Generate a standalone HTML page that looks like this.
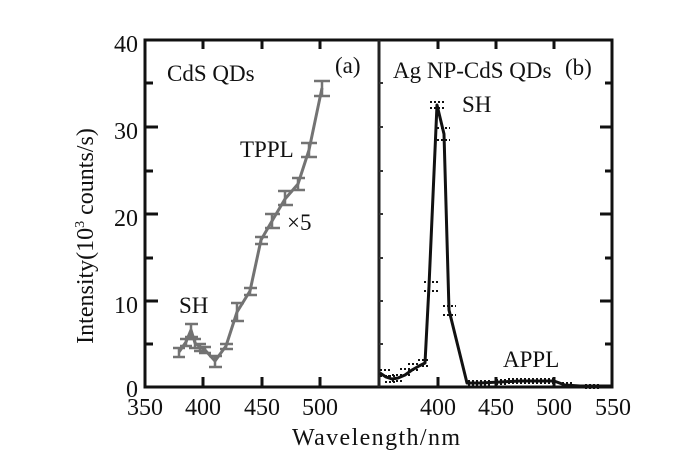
<!DOCTYPE html>
<html>
<head>
<meta charset="utf-8">
<style>
  html,body{margin:0;padding:0;background:#fff;}
  svg{display:block;}
  text{font-family:"Liberation Serif","Times New Roman",serif;fill:#111;}
</style>
</head>
<body>
<svg width="700" height="457" viewBox="0 0 700 457" xmlns="http://www.w3.org/2000/svg">
  <rect width="700" height="457" fill="#fff"/>

  <!-- Frame -->
  <g stroke="#111" stroke-width="3" fill="none">
    <line x1="145" y1="40" x2="612" y2="40"/>
    <line x1="145" y1="387" x2="612" y2="387"/>
    <line x1="145" y1="38.5" x2="145" y2="388.5"/>
    <line x1="612" y1="38.5" x2="612" y2="388.5"/>
  </g>
  <line x1="379" y1="40" x2="379" y2="387" stroke="#222" stroke-width="3"/>

  <!-- Left axis ticks -->
  <g stroke="#111" stroke-width="3">
    <line x1="145" y1="127" x2="158" y2="127"/>
    <line x1="145" y1="214" x2="158" y2="214"/>
    <line x1="145" y1="301" x2="158" y2="301"/>
    <line x1="145" y1="83" x2="153" y2="83"/>
    <line x1="145" y1="171" x2="153" y2="171"/>
    <line x1="145" y1="258" x2="153" y2="258"/>
    <line x1="145" y1="344" x2="153" y2="344"/>
    <!-- right axis ticks -->
    <line x1="612" y1="127" x2="600" y2="127"/>
    <line x1="612" y1="214" x2="600" y2="214"/>
    <line x1="612" y1="301" x2="600" y2="301"/>
    <line x1="612" y1="83" x2="605" y2="83"/>
    <line x1="612" y1="171" x2="605" y2="171"/>
    <line x1="612" y1="258" x2="605" y2="258"/>
    <line x1="612" y1="344" x2="605" y2="344"/>
    <!-- top ticks -->
    <line x1="203" y1="40" x2="203" y2="49"/>
    <line x1="262" y1="40" x2="262" y2="49"/>
    <line x1="320" y1="40" x2="320" y2="49"/>
    <line x1="438" y1="40" x2="438" y2="49"/>
    <line x1="496" y1="40" x2="496" y2="49"/>
    <line x1="554" y1="40" x2="554" y2="49"/>
    <!-- bottom ticks -->
    <line x1="203" y1="387" x2="203" y2="377"/>
    <line x1="262" y1="387" x2="262" y2="377"/>
    <line x1="320" y1="387" x2="320" y2="377"/>
    <line x1="438" y1="387" x2="438" y2="377"/>
    <line x1="496" y1="387" x2="496" y2="377"/>
    <line x1="554" y1="387" x2="554" y2="377"/>
  </g>
  <!-- divider small ticks -->
  <g stroke="#333" stroke-width="2">
    <line x1="379" y1="83" x2="383" y2="83"/>
    <line x1="379" y1="127" x2="383" y2="127"/>
    <line x1="379" y1="171" x2="383" y2="171"/>
    <line x1="379" y1="214" x2="383" y2="214"/>
    <line x1="379" y1="258" x2="383" y2="258"/>
    <line x1="379" y1="301" x2="383" y2="301"/>
    <line x1="379" y1="344" x2="383" y2="344"/>
  </g>

  <!-- Y tick labels -->
  <g font-size="24" text-anchor="end">
    <text x="138" y="52">40</text>
    <text x="138" y="139">30</text>
    <text x="138" y="226">20</text>
    <text x="138" y="313">10</text>
    <text x="138" y="397">0</text>
  </g>
  <!-- X tick labels -->
  <g font-size="24" text-anchor="middle">
    <text x="145" y="415">350</text>
    <text x="203" y="415">400</text>
    <text x="262" y="415">450</text>
    <text x="320" y="415">500</text>
    <text x="438" y="415">400</text>
    <text x="496" y="415">450</text>
    <text x="554" y="415">500</text>
    <text x="613" y="415">550</text>
  </g>

  <!-- Axis titles -->
  <text font-size="24" text-anchor="middle" transform="translate(93,236) rotate(-90)">Intensity(10<tspan font-size="14" dy="-9">3</tspan><tspan dy="9"> counts/s)</tspan></text>
  <text font-size="24" x="376" y="445" text-anchor="middle" textLength="168">Wavelength/nm</text>

  <!-- Annotations -->
  <g font-size="23">
    <text x="167" y="81">CdS QDs</text>
    <text x="335" y="73">(a)</text>
    <text x="240" y="157">TPPL</text>
    <text x="287" y="230">×5</text>
    <text x="179" y="313">SH</text>
    <text x="393" y="78">Ag NP-CdS QDs</text>
    <text x="565" y="75">(b)</text>
    <text x="462" y="112">SH</text>
    <text x="503" y="367">APPL</text>
  </g>

  <!-- Left series (gray) -->
  <g stroke="#737373" fill="none" stroke-width="3" stroke-linejoin="round">
    <polyline points="179,352 186,342 191,330 195,343 200,347 205,350 215,361 226,346 237,312 250,291 261,240 272,221 285,199 298,184 309,150 322,88"/>
    <g stroke-width="2.5">
      <path d="M179,348V357 M173,348H185 M173,357H185"/>
      <path d="M186,339V346 M180,339H192 M180,346H192"/>
      <path d="M191,324V337 M185,324H198 M185,337H198"/>
      <path d="M195,339V348 M189,339H201 M189,348H201"/>
      <path d="M200,344V351 M194,344H206 M194,351H206"/>
      <path d="M205,347V353 M199,347H211 M199,353H211"/>
      <path d="M215,356V367 M209,356H222 M209,367H222"/>
      <path d="M226,344V349 M220,344H233 M220,349H233"/>
      <path d="M237,303V321 M231,303H244 M231,321H244"/>
      <path d="M250,288V295 M244,288H257 M244,295H257"/>
      <path d="M261,237V244 M255,237H268 M255,244H268"/>
      <path d="M272,214V228 M265,214H280 M265,228H280"/>
      <path d="M285,191V205 M278,191H293 M278,205H293"/>
      <path d="M298,178V190 M292,178H305 M292,190H305"/>
      <path d="M309,143V157 M301,143H317 M301,157H317"/>
      <path d="M322,81V96 M314,81H330 M314,96H330"/>
    </g>
  </g>

  <!-- Right series (black) -->
  <g stroke="#111" fill="none" stroke-linejoin="round">
    <polyline stroke-width="3" points="380,373 386,377 392,379 398,378 405,375 412,370 419,366 425,363 429,286 437,105 444,134 449,310 467,383 480,383 500,382 520,381 540,381 554,381 565,385 580,386 612,386"/>
    <g stroke-width="2" stroke-dasharray="2,2">
      <path d="M430,102H444 M430,108H444"/>
      <path d="M437,128H450 M437,140H450"/>
      <path d="M424,282H438 M424,291H438"/>
      <path d="M443,306H456 M443,315H456"/>
      <path d="M418,360H430 M418,366H430"/>
      <path d="M408,364H420 M408,370H420"/>
      <path d="M400,369H412 M400,375H412"/>
      <path d="M392,375H404 M392,381H404"/>
      <path d="M385,376H397 M385,382H397"/>
      <path d="M380,370H390 M380,376H390"/>
      <path d="M468,381H480 M468,385H480"/>
      <path d="M480,381H492 M480,385H492"/>
      <path d="M496,380H508 M496,384H508"/>
      <path d="M508,379H520 M508,383H520"/>
      <path d="M520,379H532 M520,383H532"/>
      <path d="M532,379H544 M532,383H544"/>
      <path d="M544,379H556 M544,383H556"/>
      <path d="M562,383H574 M562,387H574"/>
      <path d="M585,385H600 M585,388H600"/>
    </g>
  </g>
</svg>
</body>
</html>
